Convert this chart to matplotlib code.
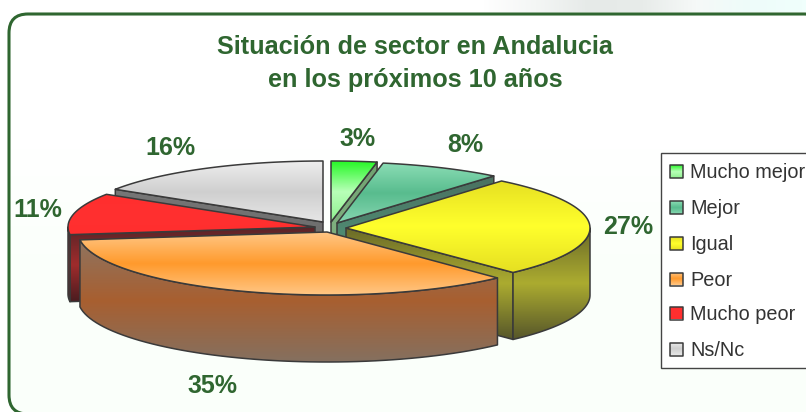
import numpy as np
import matplotlib
matplotlib.use('Agg')
import matplotlib.pyplot as plt
from matplotlib.colors import LinearSegmentedColormap
from matplotlib.patches import Polygon, Rectangle, FancyBboxPatch

plt.rcParams['font.family'] = ['Liberation Sans', 'DejaVu Sans']

# Data
categories = ['Mucho mejor', 'Mejor', 'Igual', 'Peor', 'Mucho peor', 'Ns/Nc']
shares = [3, 8, 27, 35, 11, 16]
pct_labels = ['3%', '8%', '27%', '35%', '11%', '16%']

# Layout, everything in image pixels
apex_x = [331, 337, 346, 327, 315, 323]
apex_y = [222, 223, 228, 232, 227, 222]
radius_x = [246, 246, 244, 249, 247, 246]
radius_y = [61, 61, 61, 63, 61, 61]
label_x = [358, 465, 628, 212, 38, 170]
label_y = [139, 145, 227, 386, 210, 148]
legend_y = [171, 207, 243, 279, 313, 349]
depth = 67

GREEN = '#2f6630'
EDGE = '#3a3a3a'

# Gradients run top to bottom: top face, then side wall
top_cols = [
    ['#28f828', '#b8ffb8', '#90f090'],
    ['#8adcb4', '#58bc8e', '#86d6b0'],
    ['#e6e022', '#ffff2c', '#e6e022'],
    ['#ffc684', '#ff9a2c', '#ffc684'],
    ['#ff2e2e', '#ff3030', '#ff2e2e'],
    ['#eeeeee', '#cfcfcf', '#e6e6e6'],
]
side_cols = [
    ['#6fa06f', '#7fb07f', '#6fa06f'],
    ['#4a7060', '#4f8a72', '#3f6a58'],
    ['#6a6a28', '#acac30', '#58582a'],
    ['#8f7460', '#a85f30', '#85705f'],
    ['#5a2428', '#a02c2c', '#4a1c20'],
    ['#777777', '#6c6c6c', '#666666'],
]

fig = plt.figure(figsize=(8.06, 4.12), dpi=100)
ax = fig.add_axes([0, 0, 1, 1])
ax.axis('off')


def grad_image(cols, ext, vertical=True, zorder=2):
    cmap = LinearSegmentedColormap.from_list('g', cols)
    grad = np.linspace(0, 1, 64).reshape(-1, 1) if vertical else np.linspace(0, 1, 64).reshape(1, -1)
    return ax.imshow(grad, cmap=cmap, extent=ext, aspect='auto', zorder=zorder,
                     interpolation='bilinear', origin='upper')


def fill_grad(pts, cols, lw=1.1, zorder=2):
    pts = np.array(pts)
    ext = (pts[:, 0].min(), pts[:, 0].max(), pts[:, 1].max(), pts[:, 1].min())
    im = grad_image(cols, ext, zorder=zorder)
    poly = Polygon(pts, closed=True, fc='none', ec=EDGE, lw=lw, zorder=zorder,
                   joinstyle='round')
    ax.add_patch(poly)
    im.set_clip_path(poly)


def rim(i, a, b):
    t = np.radians(np.linspace(a, b, 60))
    return np.column_stack([apex_x[i] + radius_x[i] * np.sin(t),
                            apex_y[i] - radius_y[i] * np.cos(t)])


def radial_face(i, ang, z):
    x1, y1 = rim(i, ang, ang)[0]
    x0, y0 = apex_x[i], apex_y[i]
    fill_grad([(x0, y0), (x1, y1), (x1, y1 + depth), (x0, y0 + depth)], side_cols[i], zorder=z)


# Background panel, almost invisible face so agg keeps the off-canvas curves intact
fig.patch.set_facecolor('white')
grad_image(['#ffffff', '#f4f6f5', '#e6eae8', '#e8ecea', '#f6f9f8', '#eefcfa', '#f0fffc'],
           (480, 806, 12, 0), vertical=False, zorder=0)
panel = FancyBboxPatch((9, 14), 814, 400, boxstyle='round,pad=0,rounding_size=19',
                       fc=(1, 1, 1, 0.01), ec=GREEN, lw=2.2, zorder=1.5)
ax.add_patch(panel)
panel_fill = grad_image(['#ffffff', '#ffffff', '#fafffa', '#fafffa'], (9, 823, 414, 14), zorder=1)
panel_fill.set_clip_path(panel)

# Slices back to front
ends = np.cumsum(shares) / np.sum(shares) * 360
starts = np.r_[0, ends[:-1]]
order = [0, 5, 1, 4, 2, 3]
z = 3
for i in order:
    a, b = starts[i], ends[i]
    if np.sin(np.radians(a)) < -1e-6:
        radial_face(i, a, z)
        z += 1
    if np.sin(np.radians(b)) > 1e-6:
        radial_face(i, b, z)
        z += 1
    lo, hi = max(a, 90), min(b, 270)
    if hi > lo:
        arc = rim(i, lo, hi)
        wall = np.vstack([arc, (arc + [0, depth])[::-1]])
        fill_grad(wall, side_cols[i], zorder=z)
        z += 1
    top = np.vstack([[apex_x[i], apex_y[i]], rim(i, a, b)])
    fill_grad(top, top_cols[i], zorder=z)
    z += 1

# Percent labels
for i, lab in enumerate(pct_labels):
    ax.text(label_x[i], label_y[i], lab, color=GREEN, fontsize=18, fontweight='bold',
            ha='center', va='center', zorder=50)

# Title
ax.text(415, 47, 'Situación de sector en Andalucia', color=GREEN, fontsize=18.2,
        fontweight='bold', ha='center', va='center', zorder=50)
ax.text(415, 80, 'en los próximos 10 años', color=GREEN, fontsize=18.2,
        fontweight='bold', ha='center', va='center', zorder=50)

# Legend
ax.add_patch(Rectangle((660.5, 152.5), 160, 215, fc='white', ec='#444444', lw=1, zorder=60))
for i, name in enumerate(categories):
    y = legend_y[i]
    box = [(670, y - 6.5), (683, y - 6.5), (683, y + 6.5), (670, y + 6.5)]
    fill_grad(box, top_cols[i], zorder=61)
    ax.text(690, y + 1, name, color='#333333', fontsize=14.3, ha='left', va='center', zorder=62)

ax.set_xlim(0, 806)
ax.set_ylim(412, 0)
fig.savefig('out.png', dpi=100)
